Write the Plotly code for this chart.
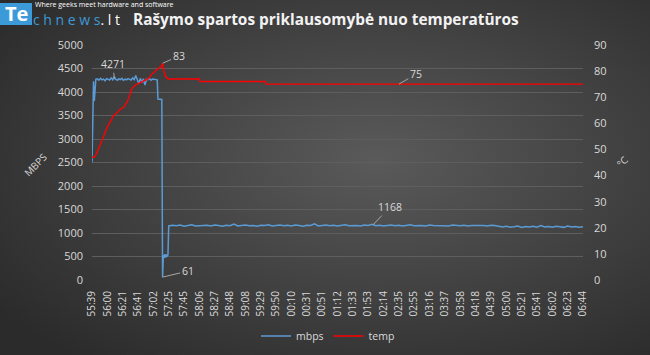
import base64
import plotly.graph_objects as go

# ---------------- data ----------------
time_labels = ["55:39", "56:00", "56:21", "56:41", "57:02", "57:25", "57:45", "58:06",
               "58:27", "58:48", "59:08", "59:29", "59:50", "00:10", "00:31", "00:51",
               "01:12", "01:33", "01:53", "02:14", "02:35", "02:55", "03:16", "03:37",
               "03:58", "04:18", "04:39", "05:00", "05:21", "05:41", "06:02", "06:23", "06:44"]
samples_per_label = 20

# temperature (°C) – sample index / value
temp_x = [0, 3, 6, 11, 15, 19, 24, 28, 33, 37, 41, 46, 50, 52, 57, 61, 65, 70, 74, 77,
          81, 85, 90, 92, 94, 96, 99, 140, 141, 226, 227, 640]
temp_y = [47, 47, 48.5, 51.7, 54.9, 58, 60.6, 62.8, 64.2, 65.4, 66.1, 68.3, 71.5, 73.4,
          74.7, 75.3, 76, 76.6, 77.2, 78.5, 79.8, 80.7, 81.7, 83, 79.8, 78, 77, 77, 76, 76,
          75, 75]

# write speed (MBPS)
mbps_start_x = [0, 1, 2, 3, 4]
mbps_start_y = [2500, 4150, 4230, 3810, 4200]
mbps_high_y = [4270, 4280, 4250, 4290, 4260, 4275, 4240, 4285, 4265, 4255, 4300, 4260,
               4330, 4270, 4250, 4280, 4265, 4290, 4245, 4275, 4260, 4285, 4270, 4255,
               4300, 4265, 4350, 4240, 4180, 4290, 4200, 4280, 4150, 4270, 4260, 4285,
               4250, 4275, 4265, 4270, 4260]
mbps_drop_x = [86, 91, 92, 93, 94, 95, 96, 97, 98, 99]
mbps_drop_y = [3850, 3840, 61, 530, 470, 550, 480, 540, 510, 530]
mbps_low_y = [1150, 1165, 1155, 1170, 1145, 1160, 1175, 1150, 1160, 1155,
              1165, 1150, 1170, 1160, 1145, 1165, 1155, 1190, 1150, 1160,
              1170, 1155, 1160, 1145, 1165, 1160, 1175, 1150, 1160, 1168,
              1155, 1165, 1150, 1170, 1160, 1145, 1165, 1160, 1195, 1150,
              1160, 1170, 1155, 1165, 1150, 1160, 1175, 1155, 1165, 1160,
              1150, 1170, 1160, 1185, 1155, 1165, 1150, 1160, 1170, 1155,
              1165, 1150, 1160, 1175, 1155, 1165, 1160, 1150, 1170, 1160,
              1155, 1165, 1160, 1150, 1170, 1160, 1155, 1165, 1150, 1160,
              1165, 1155, 1160, 1150, 1165, 1160, 1140, 1130, 1145, 1125,
              1135, 1150, 1120, 1140, 1130, 1145, 1125, 1160, 1130, 1140,
              1125, 1145, 1135, 1120, 1150, 1130, 1140, 1125, 1135]

data_labels = [  # (series, sample, value, text)
    ("mbps", 29, 4271, "4271"),
    ("temp", 92, 83, "83"),
    ("temp", 400, 75, "75"),
    ("mbps", 92, 61, "61"),
    ("mbps", 366, 1168, "1168"),
]

# ---------------- assemble ----------------
mbps_x = (mbps_start_x
          + list(range(5, 5 + 2 * len(mbps_high_y), 2))
          + mbps_drop_x
          + list(range(100, 100 + 5 * len(mbps_low_y), 5)))
mbps_y = mbps_start_y + mbps_high_y + mbps_drop_y + mbps_low_y

W, H = 650, 355
L, R, T, B = 92, 67, 45, 75
PW, PH = W - L - R, H - T - B


def px(x):
    return (x - L) / PW


def py(y):
    return (H - B - y) / PH


FONT = "Open Sans"
TXT = "#d9d9d9"

fig = go.Figure()
fig.add_trace(go.Scatter(x=mbps_x, y=mbps_y, name="mbps", mode="lines",
                         line=dict(color="#5b9bd5", width=1.5), yaxis="y"))
fig.add_trace(go.Scatter(x=temp_x, y=temp_y, name="temp", mode="lines",
                         line=dict(color="#ff0000", width=1.4), yaxis="y2"))

# background radial gradient
svg = ('<svg xmlns="http://www.w3.org/2000/svg" width="650" height="355">'
       '<defs><radialGradient id="g" cx="0.58" cy="0.45" r="0.72">'
       '<stop offset="0" stop-color="#5a5a5a"/><stop offset="1" stop-color="#2b2b2b"/>'
       '</radialGradient></defs><rect width="650" height="355" fill="url(#g)"/></svg>')
src = "data:image/svg+xml;base64," + base64.b64encode(svg.encode()).decode()
fig.add_layout_image(dict(source=src, xref="paper", yref="paper", x=px(0), y=py(0),
                          sizex=W / PW, sizey=H / PH, xanchor="left", yanchor="top",
                          sizing="stretch", layer="below"))

label_offsets = {"4271": (-1, -15), "83": (16, -7), "75": (17, -10),
                 "61": (25, -6), "1168": (17, -18)}
annotations = []
for series, sx, val, txt in data_labels:
    annotations.append(dict(
        x=sx, y=val, xref="x", yref="y" if series == "mbps" else "y2", text=txt,
        showarrow=True, arrowhead=0, arrowwidth=1, arrowcolor="#a6a6a6", standoff=0,
        ax=label_offsets[txt][0], ay=label_offsets[txt][1],
        font=dict(family=FONT, size=10.5, color=TXT)))


def paper_text(x, y, text, size, color, xanchor="center", angle=0):
    annotations.append(dict(x=px(x), y=py(y), xref="paper", yref="paper", showarrow=False,
                            text=text, textangle=angle, xanchor=xanchor, yanchor="middle",
                            font=dict(family=FONT, size=size, color=color)))


# title
paper_text(326, 20, "<b>Rašymo spartos priklausomybė nuo temperatūros</b>", 15.4, "#f2f2f2")
# axis titles
paper_text(35, 165, "MBPS", 10, TXT, angle=-45)
paper_text(622, 162, "°C", 10, TXT, angle=-45)
# logo
paper_text(16, 14, "<b>Te</b>", 20, "white")
paper_text(31, 19.5, "c h n e w s<span style='color:white'>. l t</span>", 14, "#3d9ad8",
           xanchor="left")
paper_text(33, 4.5, "Where geeks meet hardware and software", 7, "white", xanchor="left")

shapes = [dict(type="rect", xref="paper", yref="paper", x0=px(0), x1=px(32),
               y0=py(3), y1=py(25), fillcolor="#3d9ad8", line=dict(width=0), layer="below")]

fig.update_layout(
    width=W, height=H, margin=dict(l=L, r=R, t=T, b=B, autoexpand=False),
    paper_bgcolor="#3a3a3a", plot_bgcolor="rgba(0,0,0,0)",
    showlegend=True,
    legend=dict(orientation="h", xref="container", yref="container",
                x=328 / W, y=(H - 336) / H, xanchor="center", yanchor="middle",
                font=dict(family=FONT, size=10.5, color=TXT), bgcolor="rgba(0,0,0,0)"),
    xaxis=dict(range=[0, samples_per_label * (len(time_labels) - 1)],
               tickvals=[i * samples_per_label for i in range(len(time_labels))],
               ticktext=time_labels, tickangle=-90, showgrid=False, zeroline=False,
               showline=False, ticks="", ticklabelstandoff=8, automargin=False,
               tickfont=dict(family=FONT, size=10, color=TXT)),
    yaxis=dict(range=[0, 5000], dtick=500, showgrid=True, gridcolor="#5e5e5e", gridwidth=1,
               zeroline=False, showline=False, ticks="", ticklabelstandoff=8,
               automargin=False, tickfont=dict(family=FONT, size=11, color=TXT)),
    yaxis2=dict(range=[0, 90], dtick=10, overlaying="y", side="right", showgrid=False,
                zeroline=False, showline=False, ticks="", ticklabelstandoff=10,
                automargin=False, tickfont=dict(family=FONT, size=11, color=TXT)),
    annotations=annotations, shapes=shapes,
)

fig.write_html("out.html")
